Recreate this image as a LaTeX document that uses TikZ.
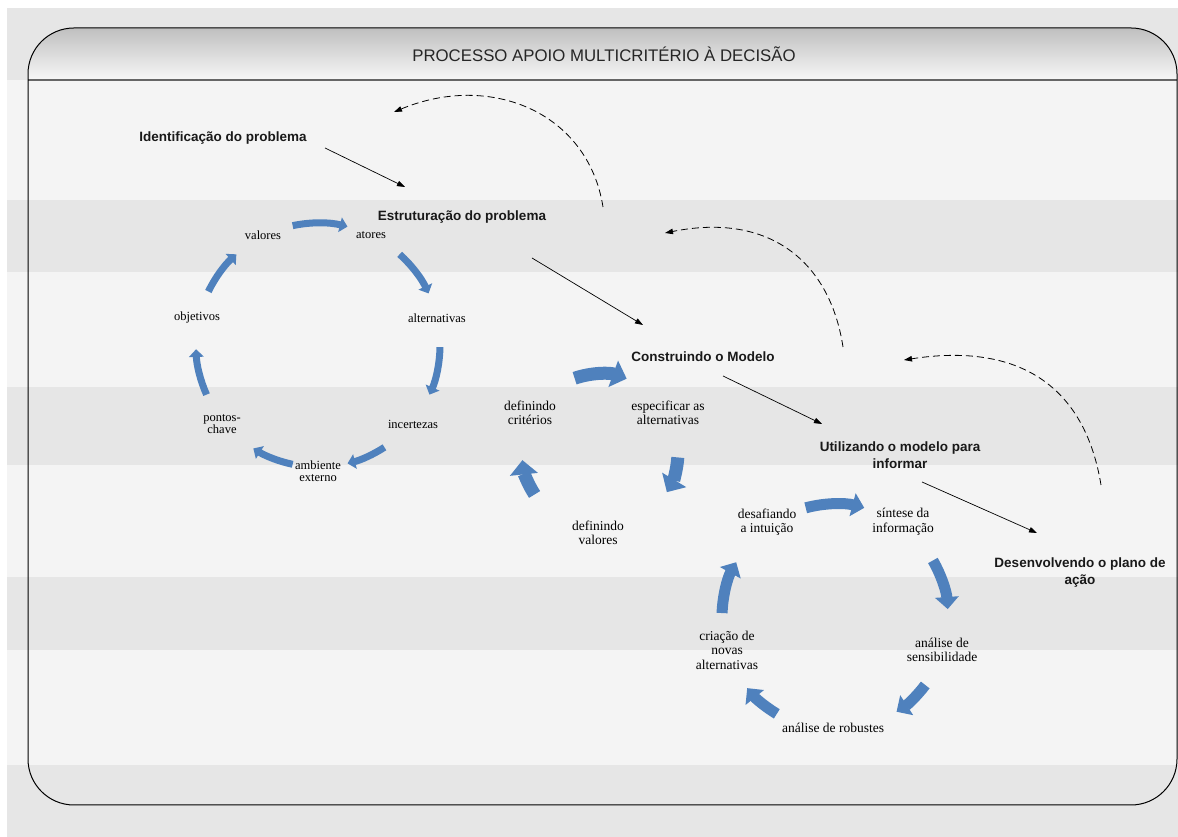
\documentclass[tikz,border=0pt]{standalone}
\usepackage{fontspec}
\setmainfont{Liberation Serif}
\setsansfont{Liberation Sans}
\usetikzlibrary{arrows.meta}
\definecolor{cycblue}{HTML}{4F81BD}
\definecolor{bandlight}{HTML}{F4F4F4}
\definecolor{banddark}{HTML}{E6E6E6}

\begin{document}
\begin{tikzpicture}[x=1pt,y=1pt,thick,
	stage/.style={font=\sffamily\bfseries\fontsize{13.5}{17}\selectfont,align=center,inner sep=0pt,text=black!90},
	cyc label/.style={font=\fontsize{12.5}{12.5}\selectfont,align=center,inner sep=0pt},
	big label/.style={font=\fontsize{13.5}{14.5}\selectfont,align=center,inner sep=0pt},
	flow/.style={-{Triangle[length=8pt,width=5.5pt]},line width=0.7pt},
	back/.style={flow,line width=0.8pt,dash pattern=on 7pt off 4pt},
	cyc arrow/.style={draw=cycblue,line width=#1,-{Triangle[length=0pt 1.1,width=0pt 2.1]}}]
	
	% background bands and frame
	\useasboundingbox (0,0) rectangle (1178,837);
	\fill[bandlight] (7,0) rectangle (1178,829);
	\foreach \lo/\hi in {757/829,565/637,372/450,187/260,0/72}
	\fill[banddark] (7,\lo) rectangle (1178,\hi);
	\begin{scope}
		\clip[rounded corners=46pt] (28,32) rectangle (1177,809);
		\shade[top color=black!25,bottom color=black!3] (28,757) rectangle (1177,809);
	\end{scope}
	\draw[black!60,line width=1.5pt] (28,757) -- (1177,757);
	\draw[line width=1pt,rounded corners=46pt] (28,32) rectangle (1177,809);
	
	\node[font=\sffamily\fontsize{16.8}{17}\selectfont,text=black!85] (title) at (604,783) {PROCESSO APOIO MULTICRITÉRIO À DECISÃO};
	
	\node[stage] (ident)  at (223,699)  {Identificação do problema};
	\node[stage] (estrut) at (462,620)  {Estruturação do problema};
	\node[stage] (constr) at (703,480)  {Construindo o Modelo};
	\node[stage] (utiliz) at (900,382)  {Utilizando o modelo para\\informar};
	\node[stage] (desenv) at (1080,264) {Desenvolvendo o plano de\\ação};
	
	% first cycle
	\coordinate (c1) at (318,492);
	\foreach \a/\b in {102/76,48/25,-1/-24,-57/-76,-102/-122,-156/-178,154/132}
	\draw[cyc arrow=7pt] ([shift={(\a:122)}]c1) arc[start angle=\a,end angle=\b,radius=122];
	\node[cyc label] (valores)      at (263,602) {valores};
	\node[cyc label] (atores)       at (371,602) {atores};
	\node[cyc label] (alternativas) at (437,519) {alternativas};
	\node[cyc label] (incertezas)   at (413,413) {incertezas};
	\node[cyc label] (ambiente)     at (318,366) {ambiente\\externo};
	\node[cyc label] (pontos)       at (222,413) {pontos-\\chave};
	\node[cyc label] (objetivos)    at (197,519) {objetivos};
	
	% second cycle
	\coordinate (c2) at (600,385);
	\foreach \a/\b in {109/70,-4/-31,213/186}
	\draw[cyc arrow=13pt] ([shift={(\a:78)}]c2) arc[start angle=\a,end angle=\b,radius=78];
	\node[big label] (criterios)   at (530,424) {definindo\\critérios};
	\node[big label] (especificar) at (668,424) {especificar as\\alternativas};
	\node[big label] (defvalores)  at (598,304) {definindo\\valores};
	
	% third cycle
	\coordinate (c3) at (835,220);
	\foreach \a/\b in {105/75,30/4,-37/-57,-121/-141,178/151}
	\draw[cyc arrow=11pt] ([shift={(\a:113)}]c3) arc[start angle=\a,end angle=\b,radius=113];
	\node[big label] (desafiando)    at (767,315) {desafiando\\a intuição};
	\node[big label] (sintese)       at (903,315) {síntese da\\informação};
	\node[big label] (sensibilidade) at (942,187) {análise de\\sensibilidade};
	\node[big label] (robustes)      at (833,109) {análise de robustes};
	\node[big label] (criacao)       at (727,187) {criação de\\novas\\alternativas};
	
	% stage to stage
	\draw[flow] ([shift={(102,-10)}]ident.center) -- ([shift={(-57,30)}]estrut.center);
	\draw[flow] ([shift={(70,-41)}]estrut.center) -- ([shift={(-60,32)}]constr.center);
	\draw[flow] ([shift={(20,-19)}]constr.center) -- ([shift={(-78,31)}]utiliz.center);
	\draw[flow] ([shift={(22,-27)}]utiliz.center) -- ([shift={(-43,40)}]desenv.center);
	
	% feedback
	\draw[back] ([shift={(141,10)}]estrut.center) .. controls +(-15,95) and +(96,40) .. ([shift={(171,26)}]ident.center);
	\draw[back] ([shift={(140,10)}]constr.center) .. controls +(-13,85) and +(105,21) .. ([shift={(203,-16)}]estrut.center);
	\draw[back] ([shift={(201,-30)}]utiliz.center) .. controls +(-16,98) and +(116,18) .. ([shift={(201,-3)}]constr.center);
\end{tikzpicture}
\end{document}
